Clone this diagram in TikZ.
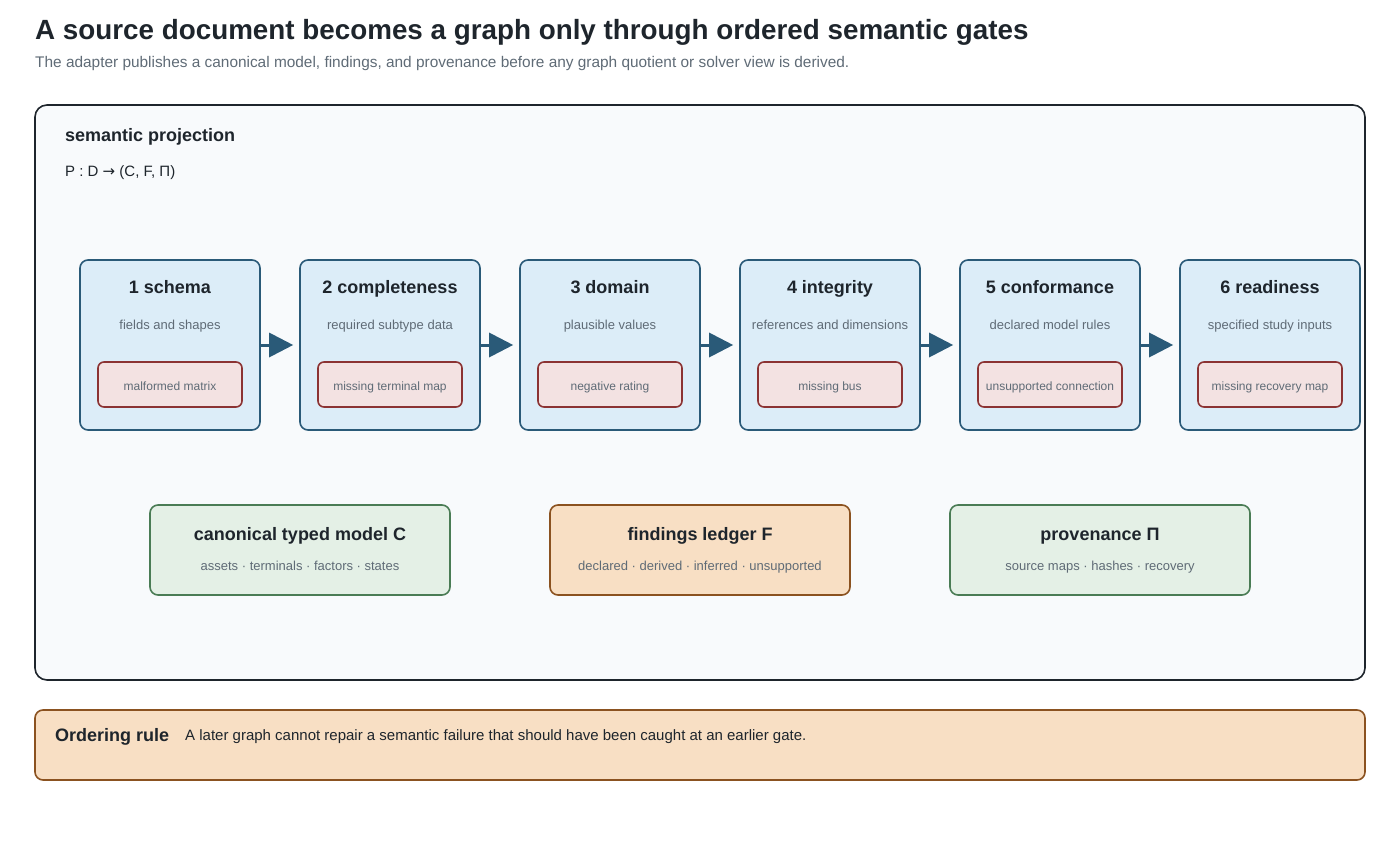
\documentclass[tikz,border=0pt]{standalone}
\usepackage{fontspec}
\setmainfont{Liberation Sans}
\newfontfamily\arrowfont{DejaVu Sans}
\usetikzlibrary{arrows.meta}
\definecolor{ink}{HTML}{1E252C}
\definecolor{muted}{HTML}{5F6B76}
\definecolor{gfill}{HTML}{DCEDF8}
\definecolor{gdraw}{HTML}{2A5A78}
\definecolor{rfill}{HTML}{F3E2E2}
\definecolor{rdraw}{HTML}{8B3333}
\definecolor{tfill}{HTML}{E4F0E6}
\definecolor{tdraw}{HTML}{4A7C55}
\definecolor{ofill}{HTML}{F8DFC4}
\definecolor{odraw}{HTML}{8B5220}
\definecolor{pfill}{HTML}{F8FAFC}
\begin{document}
\begin{tikzpicture}[x=1pt,y=-1pt,
  gate/.style={draw=gdraw,fill=gfill,line width=1.6pt,rounded corners=8pt,minimum width=180pt,minimum height=170pt,inner sep=0},
  fail/.style={draw=rdraw,fill=rfill,line width=1.6pt,rounded corners=6pt,minimum width=144pt,minimum height=45pt,inner sep=0},
  ft/.style={font=\fontsize{12}{14}\selectfont,text=muted,inner sep=0},
  gt/.style={font=\fontsize{18}{21}\selectfont\bfseries,text=ink,inner sep=0},
  gs/.style={font=\fontsize{13}{15}\selectfont,text=muted,inner sep=0},
  outbox/.style={line width=1.6pt,rounded corners=8pt,minimum width=300pt,minimum height=90pt,inner sep=0},
  flow/.style={draw=gdraw,line width=3pt,-{Triangle[length=24pt,width=24pt]}}]
\useasboundingbox (0,0) rectangle (1400,850);
\node[anchor=base west,inner sep=0,font=\fontsize{27.8}{32}\selectfont\bfseries,text=ink] (title) at (35,40) {A source document becomes a graph only through ordered semantic gates};
\node[anchor=base west,inner sep=0,font=\fontsize{15.4}{18}\selectfont,text=muted] (sub) at (35,68) {The adapter publishes a canonical model, findings, and provenance before any graph quotient or solver view is derived.};
\node[draw=ink,fill=pfill,line width=1.6pt,rounded corners=12pt,minimum width=1330pt,minimum height=575pt,inner sep=0] (panel) at (700,392.5) {};
\node[anchor=base west,inner sep=0,font=\fontsize{18}{21}\selectfont\bfseries,text=ink] (ptitle) at (65,142) {semantic projection};
\node[anchor=base west,inner sep=0,font=\fontsize{15}{18}\selectfont,text=ink] (pform) at (65,177) {P : D {\arrowfont →} (C, F, Π)};
\foreach \i/\x/\t/\s/\f in {1/170/1 schema/fields and shapes/malformed matrix,
  2/390/2 completeness/required subtype data/missing terminal map,
  3/610/3 domain/plausible values/negative rating,
  4/830/4 integrity/references and dimensions/missing bus,
  5/1050/5 conformance/declared model rules/unsupported connection,
  6/1270/6 readiness/specified study inputs/missing recovery map}{
  \node[gate] (g\i) at (\x,345) {};
  \node[gt,anchor=base] (gt\i) at (\x,294) {\t};
  \node[gs,anchor=base] (gs\i) at (\x,330) {\s};
  \node[fail] (f\i) at (\x,384.5) {};
  \node[ft,anchor=base] (fl\i) at (\x,390) {\f};
}
\foreach \a/\b in {1/2,2/3,3/4,4/5,5/6}{
  \draw[flow] (g\a.east) -- ([xshift=-6pt]g\b.west);
}
\node[outbox,draw=tdraw,fill=tfill] (C) at (300,550) {};
\node[gt,anchor=base] (Ct) at (300,540) {canonical typed model C};
\node[gs,anchor=base] (Cs) at (300,570) {assets · terminals · factors · states};
\node[outbox,draw=odraw,fill=ofill] (F) at (700,550) {};
\node[gt,anchor=base] (Ft) at (700,540) {findings ledger F};
\node[gs,anchor=base] (Fs) at (700,570) {declared · derived · inferred · unsupported};
\node[outbox,draw=tdraw,fill=tfill] (P) at (1100,550) {};
\node[gt,anchor=base] (Pt) at (1100,540) {provenance Π};
\node[gs,anchor=base] (Ps) at (1100,570) {source maps · hashes · recovery};
\node[draw=odraw,fill=ofill,line width=1.6pt,rounded corners=8pt,minimum width=1330pt,minimum height=70pt,inner sep=0] (rule) at (700,745) {};
\node[anchor=base west,inner sep=0,font=\fontsize{18}{21}\selectfont\bfseries,text=ink] (rl) at (55,741) {Ordering rule};
\node[anchor=base west,inner sep=0,font=\fontsize{15}{18}\selectfont,text=ink] (rt) at (185,740) {A later graph cannot repair a semantic failure that should have been caught at an earlier gate.};
\end{tikzpicture}
\end{document}
